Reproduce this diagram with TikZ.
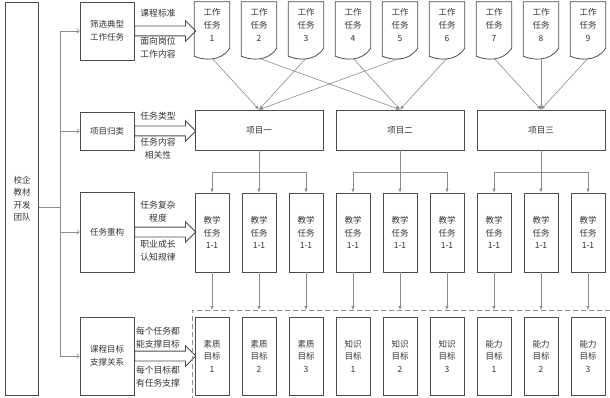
\documentclass[tikz,border=0pt]{standalone}
\usepackage{fontspec}
\setmainfont{Noto Sans CJK SC}
\usepackage{xcolor}
\usepackage{tikz}
\usetikzlibrary{shapes,arrows.meta,positioning,calc}

\definecolor{boxc}{gray}{0.30}
\definecolor{linec}{gray}{0.55}
\definecolor{txtc}{gray}{0.20}

\begin{document}
\begin{tikzpicture}[x=1pt, y=-1pt,
  box/.style={rectangle, draw=boxc, line width=0.8pt, text=txtc,
              font=\fontsize{8.5}{12.5}\selectfont, align=center, inner sep=0pt},
  side/.style={box, minimum width=54pt},
  tall/.style={box, minimum width=34pt, minimum height=79pt},
  proj/.style={box, minimum width=128pt, minimum height=40pt},
  doc/.style={text=txtc, font=\fontsize{8.5}{13}\selectfont, align=center,
              minimum width=35pt, minimum height=46pt, inner sep=0pt},
  docline/.style={draw=boxc, line width=0.8pt},
  bigarr/.style={single arrow, draw=boxc, line width=0.8pt, anchor=tail,
                 minimum height=61pt, minimum width=20pt, inner sep=4.5pt,
                 single arrow head extend=5.5pt},
  lbl/.style={text=txtc, font=\fontsize{8.8}{13}\selectfont, align=center},
  arr/.style={-{Latex[length=4pt,width=3.5pt]}, draw=linec, line width=0.6pt},
  feed/.style={-{To[length=3pt,width=5pt]}, draw=linec, line width=0.6pt},
  dashbox/.style={draw=linec, line width=0.9pt, dash pattern=on 5pt off 3pt}
]
\useasboundingbox (0,0) rectangle (610,398);

% left team box and the four steps
\node[box, minimum width=33pt, minimum height=393pt] (team) at (22,198.5) {校企\\教材\\开发\\团队};
\node[side, minimum height=58pt] (s1) at (107,31)  {筛选典型\\工作任务};
\node[side, minimum height=38pt] (s2) at (107,131) {项目归类};
\node[side, minimum height=80pt] (s3) at (107,232) {任务重构};
\node[side, minimum height=78pt] (s4) at (107,356) {课程目标\\支撑关系};

\coordinate (jn) at (60,207);
\draw[linec, line width=0.6pt] (team.east |- jn) -- (jn);
\draw[feed] (jn) |- (s1.west);
\draw[feed] (jn) |- (s2.west);
\draw[feed] (jn) |- (s3.west);
\draw[feed] (jn) |- (s4.west);

% block arrows with their labels
\node[bigarr] (a1) at (s1.east) {};
\node[bigarr] (a2) at (s2.east) {};
\node[bigarr] (a3) at (s3.east) {};
\node[bigarr] (a4) at (s4.east) {};
\node[lbl] (l1a) at (158,13)  {课程标准};
\node[lbl] (l1b) at (158,48)  {面向岗位\\工作内容};
\node[lbl] (l2a) at (158,116) {任务类型};
\node[lbl] (l2b) at (158,149) {任务内容\\相关性};
\node[lbl] (l3a) at (158,212) {任务复杂\\程度};
\node[lbl] (l3b) at (158,251) {职业成长\\认知规律};
\node[lbl] (l4a) at (158,338) {每个任务都\\能支撑目标};
\node[lbl] (l4b) at (158,377) {每个目标都\\有任务支撑};

% work tasks
\node[doc] (t1) at (212,25) {工作\\任务\\1};
\node[doc] (t2) at (259,25) {工作\\任务\\2};
\node[doc] (t3) at (306,25) {工作\\任务\\3};
\node[doc] (t4) at (353,25) {工作\\任务\\4};
\node[doc] (t5) at (400,25) {工作\\任务\\5};
\node[doc] (t6) at (447,25) {工作\\任务\\6};
\node[doc] (t7) at (494,25) {工作\\任务\\7};
\node[doc] (t8) at (541,25) {工作\\任务\\8};
\node[doc] (t9) at (588,25) {工作\\任务\\9};
\foreach \i in {1,...,9}
  \draw[docline] (t\i.north west) -- (t\i.north east) -- (t\i.south east)
    .. controls ($(t\i.south east)+(-9,14)$) and ($(t\i.south west)+(9,12)$)
    .. ($(t\i.south west)+(0,8)$) -- cycle;

% projects
\node[proj] (p1) at (259,130) {项目一};
\node[proj] (p2) at (400,130) {项目二};
\node[proj] (p3) at (541,130) {项目三};

\draw[arr] ([yshift=-10pt]t1.south) -- (p1.north);
\draw[arr] ([yshift=-10pt]t3.south) -- (p1.north);
\draw[arr] ([yshift=-10pt]t5.south) -- (p1.north);
\draw[arr] ([yshift=-10pt]t2.south) -- (p2.north);
\draw[arr] ([yshift=-10pt]t4.south) -- (p2.north);
\draw[arr] ([yshift=-10pt]t6.south) -- (p2.north);
\draw[arr] ([yshift=-10pt]t7.south) -- (p3.north);
\draw[arr] ([yshift=-10pt]t8.south) -- (p3.north);
\draw[arr] ([yshift=-10pt]t9.south) -- (p3.north);

% teaching tasks
\node[tall] (e1) at (212,232.5) {教学\\任务\\1-1};
\node[tall] (e2) at (259,232.5) {教学\\任务\\1-1};
\node[tall] (e3) at (306,232.5) {教学\\任务\\1-1};
\node[tall] (e4) at (353,232.5) {教学\\任务\\1-1};
\node[tall] (e5) at (400,232.5) {教学\\任务\\1-1};
\node[tall] (e6) at (447,232.5) {教学\\任务\\1-1};
\node[tall] (e7) at (494,232.5) {教学\\任务\\1-1};
\node[tall] (e8) at (541,232.5) {教学\\任务\\1-1};
\node[tall] (e9) at (588,232.5) {教学\\任务\\1-1};

\draw[arr] (p1.south) -- ++(0,22) -| (e1.north);
\draw[arr] (p1.south) -- (e2.north);
\draw[arr] (p1.south) -- ++(0,22) -| (e3.north);
\draw[arr] (p2.south) -- ++(0,22) -| (e4.north);
\draw[arr] (p2.south) -- (e5.north);
\draw[arr] (p2.south) -- ++(0,22) -| (e6.north);
\draw[arr] (p3.south) -- ++(0,22) -| (e7.north);
\draw[arr] (p3.south) -- (e8.north);
\draw[arr] (p3.south) -- ++(0,22) -| (e9.north);

% course goals
\coordinate (dash) at (192,310);
\draw[dashbox] (610,310) -| (192,398);
\node[tall, minimum height=78pt] (g1) at (212,356) {素质\\目标\\1};
\node[tall, minimum height=78pt] (g2) at (259,356) {素质\\目标\\2};
\node[tall, minimum height=78pt] (g3) at (306,356) {素质\\目标\\3};
\node[tall, minimum height=78pt] (g4) at (353,356) {知识\\目标\\1};
\node[tall, minimum height=78pt] (g5) at (400,356) {知识\\目标\\2};
\node[tall, minimum height=78pt] (g6) at (447,356) {知识\\目标\\3};
\node[tall, minimum height=78pt] (g7) at (494,356) {能力\\目标\\1};
\node[tall, minimum height=78pt] (g8) at (541,356) {能力\\目标\\2};
\node[tall, minimum height=78pt] (g9) at (588,356) {能力\\目标\\3};

\foreach \i in {1,...,9}
  \draw[arr] (e\i.south) -- (e\i.south |- dash);
\end{tikzpicture}
\end{document}
